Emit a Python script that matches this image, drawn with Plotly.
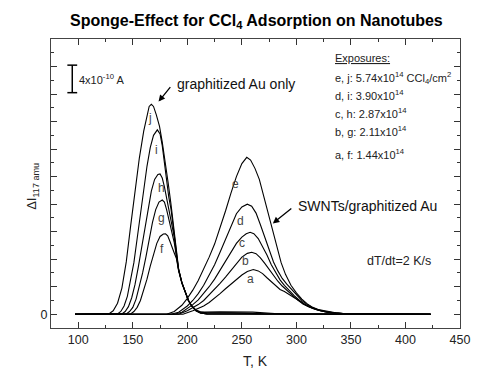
import plotly.graph_objects as go

FONT = "Liberation Sans, Arial, sans-serif"

# ---- data: temperature (K) and ΔI (units of 1e-10 A) ----
# graphitized Au only (f..j)
T_j = [97, 125, 128, 132, 136, 140, 144, 148, 152, 156, 160, 163, 165, 167, 169, 171.5, 174.5, 177, 180, 182.5, 185, 188, 190, 192, 195, 198, 201, 204, 208, 212, 216, 230, 245, 260, 280, 300, 423]
Y_j = [0, 0, 0.05, 0.5, 1.6, 3.8, 7.6, 12.8, 18.0, 22.7, 26.6, 29.0, 30.2, 30.5, 30.2, 29.0, 27.3, 25.0, 22.0, 19.0, 16.0, 11.6, 8.8, 6.6, 4.6, 3.2, 2.0, 1.2, 0.6, 0.35, 0.3, 0.35, 0.35, 0.3, 0.1, 0, 0]

T_i = [97, 133, 136, 139, 142, 145, 148, 151, 154, 157, 160, 163, 166, 169, 172.5, 175, 177, 179, 181, 183, 185, 188, 190, 192, 195, 198, 201, 204, 208, 212, 218, 240, 270, 423]
Y_i = [0, 0, 0.05, 0.4, 1.2, 2.6, 4.8, 7.5, 11.0, 14.7, 18.2, 21.5, 24.2, 26.0, 26.8, 26.2, 24.5, 22.0, 19.2, 17.0, 15.3, 11.4, 8.7, 6.5, 4.6, 3.2, 2.0, 1.2, 0.55, 0.3, 0.2, 0.2, 0.05, 0]

T_h = [97, 137, 140, 143, 146, 149, 152, 155, 158, 161, 164, 167, 170, 173, 175, 177, 179, 181, 183, 185, 188, 190, 192, 195, 198, 201, 204, 208, 212, 218, 423]
Y_h = [0, 0, 0.05, 0.4, 1.1, 2.4, 4.3, 6.8, 9.6, 12.6, 15.5, 17.9, 19.6, 20.3, 20.4, 19.8, 18.5, 16.8, 15.0, 13.6, 11.2, 8.6, 6.5, 4.6, 3.2, 2.0, 1.2, 0.5, 0.2, 0.05, 0]

T_g = [97, 141, 144, 147, 150, 153, 156, 159, 162, 165, 168, 171, 174, 177, 179, 181, 183, 185, 188, 190, 192, 195, 198, 201, 204, 208, 212, 218, 423]
Y_g = [0, 0, 0.05, 0.4, 1.0, 2.2, 3.9, 6.0, 8.3, 10.9, 13.3, 15.2, 16.3, 16.6, 16.3, 15.2, 13.8, 12.4, 10.4, 8.4, 6.4, 4.6, 3.2, 2.0, 1.2, 0.5, 0.2, 0.05, 0]

T_f = [97, 145, 148, 151, 154, 157, 160, 163, 166, 169, 172, 175, 178, 180, 182, 184, 186, 188, 190, 192, 195, 198, 201, 204, 208, 212, 218, 423]
Y_f = [0, 0, 0.05, 0.4, 1.0, 2.0, 3.4, 5.1, 7.0, 8.8, 10.3, 11.3, 11.65, 11.7, 11.4, 10.6, 9.6, 8.9, 8.1, 6.3, 4.5, 3.1, 2.0, 1.2, 0.5, 0.2, 0.05, 0]

# SWNTs / graphitized Au (a..e)
T_e = [97, 181, 188, 195, 200, 205, 210, 215, 220, 225, 230, 235, 240, 245, 250, 254.5, 258, 262, 266, 270, 274, 278, 282, 286, 290, 295, 300, 305, 310, 315, 320, 328, 336, 345, 423]
Y_e = [0, 0, 0.4, 1.3, 2.3, 3.5, 4.9, 6.5, 8.3, 10.2, 12.5, 15.0, 17.6, 20.0, 21.9, 22.8, 22.4, 21.2, 19.6, 17.2, 14.6, 12.0, 9.6, 7.5, 5.8, 4.2, 3.1, 2.2, 1.5, 1.0, 0.7, 0.4, 0.2, 0.05, 0]

T_d = [97, 185, 192, 200, 205, 210, 215, 220, 225, 230, 235, 240, 245, 250, 255, 259, 263, 267, 271, 275, 279, 283, 287, 291, 295, 300, 305, 310, 315, 320, 328, 336, 345, 423]
Y_d = [0, 0, 0.3, 1.2, 2.0, 3.0, 4.2, 5.6, 7.2, 9.0, 10.9, 12.9, 14.6, 15.6, 16.0, 15.7, 14.7, 13.0, 11.2, 9.3, 7.6, 6.3, 5.2, 4.4, 3.7, 2.8, 2.0, 1.4, 0.95, 0.65, 0.35, 0.17, 0.05, 0]

T_c = [97, 188, 195, 200, 205, 210, 215, 220, 225, 230, 235, 240, 245, 250, 254, 257.6, 261, 265, 269, 273, 277, 281, 285, 289, 293, 298, 303, 308, 313, 320, 328, 336, 345, 423]
Y_c = [0, 0, 0.3, 0.8, 1.4, 2.1, 3.0, 4.0, 5.1, 6.4, 7.8, 9.1, 10.3, 11.2, 11.7, 11.9, 11.7, 11.0, 9.9, 8.6, 7.2, 6.0, 5.0, 4.2, 3.5, 2.7, 2.0, 1.4, 1.0, 0.6, 0.3, 0.15, 0.05, 0]

T_b = [97, 192, 200, 205, 210, 215, 220, 225, 230, 235, 240, 245, 250, 255, 259, 263, 267, 271, 275, 279, 283, 287, 291, 296, 301, 306, 311, 318, 326, 335, 345, 423]
Y_b = [0, 0, 0.5, 0.9, 1.4, 2.0, 2.8, 3.6, 4.5, 5.4, 6.4, 7.4, 8.3, 8.85, 9.0, 8.8, 8.2, 7.4, 6.5, 5.6, 4.8, 4.1, 3.5, 2.8, 2.1, 1.5, 1.1, 0.7, 0.35, 0.15, 0.05, 0]

T_a = [97, 196, 205, 210, 215, 220, 225, 230, 235, 240, 245, 250, 255, 260.5, 265, 269, 273, 277, 281, 285, 289, 294, 299, 304, 309, 315, 322, 330, 340, 350, 423]
Y_a = [0, 0, 0.5, 0.8, 1.2, 1.7, 2.3, 3.0, 3.7, 4.4, 5.1, 5.7, 6.2, 6.5, 6.3, 5.9, 5.3, 4.7, 4.1, 3.6, 3.3, 2.8, 2.3, 1.8, 1.3, 0.85, 0.5, 0.25, 0.1, 0.03, 0]

CURVES = [("j", T_j, Y_j), ("i", T_i, Y_i), ("h", T_h, Y_h), ("g", T_g, Y_g), ("f", T_f, Y_f),
          ("e", T_e, Y_e), ("d", T_d, Y_d), ("c", T_c, Y_c), ("b", T_b, Y_b), ("a", T_a, Y_a)]

# curve letter positions (T, ΔI)
LABEL_NAMES = ["j", "i", "h", "g", "f", "e", "d", "c", "b", "a"]
LABEL_T = [166.0, 171.4, 176.0, 176.6, 176.9, 244.6, 248.3, 250.5, 253.6, 257.6]
LABEL_Y = [28.5, 23.9, 18.3, 14.0, 9.5, 18.9, 13.6, 10.4, 7.7, 5.1]

# exposures legend text
EXPOSURE_LINES = [
    "e, j: 5.74x10<sup>14</sup> CCl<sub>4</sub>/cm<sup>2</sup>",
    "d, i: 3.90x10<sup>14</sup>",
    "c, h: 2.87x10<sup>14</sup>",
    "b, g: 2.11x10<sup>14</sup>",
    "a, f: 1.44x10<sup>14</sup>",
]
EXPOSURE_Y = [34.4, 31.8, 29.2, 26.6, 23.3]

X_TICKS = [100, 150, 200, 250, 300, 350, 400, 450]
Y_TICKS = [0, 4, 8, 12, 16, 20, 24, 28, 32, 36, 40]
Y_TICK_TEXT = ["0"] + [""] * 10

SCALE_T = 94.5
SCALE_BOTTOM = 32.2
SCALE_LEN = 4  # 4x10^-10 A

fig = go.Figure()
for name, T, Y in CURVES:
    fig.add_trace(go.Scatter(x=T, y=Y, mode="lines", name=name,
                             line=dict(color="black", width=1.1), showlegend=False,
                             hoverinfo="skip"))

ann = []
for n, t, y in zip(LABEL_NAMES, LABEL_T, LABEL_Y):
    ann.append(dict(x=t, y=y, text=n, showarrow=False, font=dict(size=12, color="#444", family=FONT)))

ann.append(dict(x=333.5, y=37.2, text="<u>Exposures:</u>", showarrow=False, xanchor="left",
                font=dict(size=11, color="#222", family=FONT)))
for txt, y in zip(EXPOSURE_LINES, EXPOSURE_Y):
    ann.append(dict(x=333.5, y=y, text=txt, showarrow=False, xanchor="left",
                    font=dict(size=11, color="#222", family=FONT)))

ann.append(dict(x=363, y=7.8, text="dT/dt=2 K/s", showarrow=False, xanchor="left",
                font=dict(size=12.5, color="#222", family=FONT)))

# arrows
ann.append(dict(x=173.6, y=30.9, ax=13, ay=-16, text="", showarrow=True, arrowhead=2,
                arrowsize=1, arrowwidth=1.3, arrowcolor="black"))
ann.append(dict(x=189, y=33.5, text="graphitized Au only", showarrow=False, xanchor="left",
                font=dict(size=14, color="#111", family=FONT)))
ann.append(dict(x=278.4, y=13.2, ax=20, ay=-16, text="", showarrow=True, arrowhead=2,
                arrowsize=1, arrowwidth=1.3, arrowcolor="black"))
ann.append(dict(x=299.5, y=15.7, text="SWNTs/graphitized Au", showarrow=False, xanchor="left",
                font=dict(size=14, color="#111", family=FONT)))

# scale bar text
ann.append(dict(x=99, y=SCALE_BOTTOM + SCALE_LEN / 2, text="4x10<sup>-10</sup> A", showarrow=False,
                xanchor="left", font=dict(size=11, color="#222", family=FONT)))

# axis titles
ann.append(dict(xref="paper", yref="paper", x=-0.071, y=0.49, text="ΔI<sub>117 amu</sub>",
                textangle=-90, showarrow=False, font=dict(size=13, color="#222", family=FONT)))
ann.append(dict(xref="paper", yref="paper", x=0.5, y=-0.114, text="T, K", showarrow=False,
                yanchor="middle", font=dict(size=14, color="#222", family=FONT)))

shapes = [
    dict(type="line", x0=SCALE_T, x1=SCALE_T, y0=SCALE_BOTTOM, y1=SCALE_BOTTOM + SCALE_LEN,
         line=dict(color="black", width=1.5)),
    dict(type="line", x0=SCALE_T - 4.5, x1=SCALE_T + 4.5, y0=SCALE_BOTTOM, y1=SCALE_BOTTOM,
         line=dict(color="black", width=1.5)),
    dict(type="line", x0=SCALE_T - 4.5, x1=SCALE_T + 4.5, y0=SCALE_BOTTOM + SCALE_LEN,
         y1=SCALE_BOTTOM + SCALE_LEN, line=dict(color="black", width=1.5)),
]

# page body has an 8px margin, so the figure is 8px smaller and margins offset accordingly
fig.update_layout(
    width=474, height=371,
    margin=dict(l=43, r=22, t=31, b=51),
    paper_bgcolor="white", plot_bgcolor="white",
    title=dict(text="<b>Sponge-Effect for CCl<sub>4</sub> Adsorption on Nanotubes</b>",
               x=0.524, xanchor="center", y=1 - 12 / 371, yanchor="middle", yref="container",
               font=dict(size=16, color="black", family=FONT)),
    annotations=ann, shapes=shapes,
    font=dict(family=FONT, color="#222"),
)
fig.update_xaxes(range=[75, 450], tickvals=X_TICKS, ticks="inside", ticklen=6, tickcolor="#333",
                 showline=True, linecolor="#444", linewidth=1, mirror="allticks", showgrid=False,
                 zeroline=False, tickfont=dict(size=12.5, color="#222", family=FONT),
                 minor=dict(dtick=25, tick0=0, ticks="inside", ticklen=3, tickcolor="#333"))
fig.update_yaxes(range=[-2, 40], tickvals=Y_TICKS, ticktext=Y_TICK_TEXT, ticks="inside", ticklen=6,
                 tickcolor="#333", showline=True, linecolor="#444", linewidth=1, mirror="allticks",
                 showgrid=False, zeroline=False, tickfont=dict(size=12.5, color="#222", family=FONT),
                 minor=dict(dtick=2, tick0=0, ticks="inside", ticklen=3, tickcolor="#333"))

fig.write_html("out.html")
